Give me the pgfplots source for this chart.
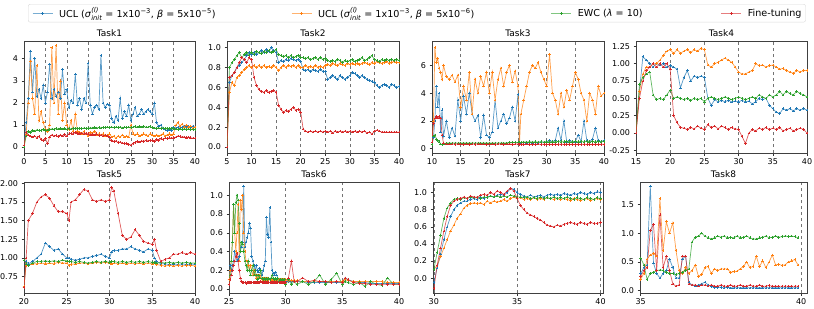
\documentclass[border=0pt]{standalone}
\usepackage{fontspec}
\setmainfont{DejaVu Sans}
\usepackage{amsmath}
\usepackage{pgfplots}
\usepackage{pgfplotstable}
\pgfplotsset{compat=1.18}
\definecolor{cb}{HTML}{1F77B4}
\definecolor{co}{HTML}{FF7F0E}
\definecolor{cg}{HTML}{2CA02C}
\definecolor{cr}{HTML}{D62728}

\pgfplotstableread{
x B O G R
0 0.1 0.0 0.0 0.1
0.5 1.1 0.6 0.5 0.65
1.0 2.2 2.0 0.7 0.55
1.5 4.35 3.9 0.65 0.5
2.0 2.5 2.2 0.75 0.45
2.5 4.0 1.5 0.72 0.5
3.0 2.3 3.7 0.78 0.42
3.5 2.6 1.2 0.74 0.48
4.0 2.2 1.6 0.76 0.35
4.5 2.8 1.1 0.8 0.3
5.0 2.0 0.8 0.75 0.38
5.5 2.5 0.7 0.78 0.15
6.0 3.75 1.0 0.8 0.45
6.5 2.2 4.5 0.82 0.55
7.0 2.6 2.0 0.8 0.5
7.5 2.3 4.6 0.83 0.52
8.0 2.5 1.5 0.82 0.48
8.5 2.2 3.0 0.85 0.55
9.0 3.5 1.2 0.82 0.5
9.5 2.4 2.0 0.84 0.58
10.0 2.6 1.0 0.8 0.5
10.5 1.8 0.8 0.83 0.6
11.0 2.1 1.2 0.82 0.62
11.5 2.0 0.7 0.85 0.6
12.0 3.3 1.5 0.83 0.65
12.5 1.9 0.7 0.84 0.62
13.0 2.2 0.65 0.85 0.6
13.5 1.7 0.6 0.83 0.63
14.0 2.2 0.7 0.86 0.6
14.5 2.0 0.6 0.84 0.62
15.0 3.8 0.5 0.85 0.6
15.5 1.9 0.65 0.87 0.55
16.0 1.5 0.6 0.86 0.58
16.5 1.8 0.7 0.88 0.55
17.0 1.9 0.55 0.86 0.6
17.5 1.7 0.6 0.88 0.52
18.0 4.15 0.55 0.87 0.55
18.5 2.0 0.6 0.89 0.5
19.0 1.8 0.5 0.88 0.55
19.5 1.95 0.55 0.9 0.5
20.0 1.9 0.6 0.88 0.45
20.5 1.3 0.45 0.9 0.3
21.0 1.1 0.5 0.88 0.25
21.5 1.4 0.4 0.9 0.28
22.0 1.2 0.5 0.88 0.2
22.5 2.2 0.45 0.9 0.22
23.0 1.3 0.55 0.87 0.18
23.5 1.6 0.45 0.9 0.15
24.0 1.4 0.5 0.88 0.15
24.5 1.9 0.45 0.9 0.12
25.0 1.2 1.0 0.88 0.1
25.5 1.5 0.6 0.9 0.15
26.0 1.8 0.55 0.92 0.2
26.5 1.4 0.6 0.9 0.25
27.0 1.5 0.5 0.92 0.22
27.5 1.7 0.55 0.9 0.28
28.0 1.5 0.6 0.92 0.25
28.5 1.6 0.55 0.9 0.3
29.0 1.7 0.5 0.9 0.28
29.5 1.6 0.6 0.92 0.3
30.0 1.5 0.55 0.88 0.3
30.5 2.0 0.5 0.86 0.25
31.0 1.1 0.55 0.85 0.35
31.5 0.95 0.5 0.86 0.3
32.0 1.0 0.55 0.85 0.38
32.5 0.85 0.6 0.86 0.35
33.0 0.8 0.5 0.84 0.4
33.5 0.75 0.55 0.85 0.38
34.0 0.8 0.6 0.84 0.42
34.5 0.75 0.55 0.85 0.4
35.0 0.9 0.6 0.83 0.42
35.5 0.85 1.0 0.82 0.45
36.0 0.9 1.1 0.8 0.5
36.5 0.85 0.95 0.82 0.48
37.0 0.9 1.05 0.8 0.45
37.5 0.95 0.9 0.82 0.45
38.0 0.9 1.0 0.8 0.42
38.5 0.95 0.9 0.82 0.45
39.0 0.9 0.95 0.8 0.42
39.5 0.95 0.85 0.8 0.4
40.0 0.9 0.9 0.8 0.4
}\tA

\pgfplotstableread{
x B O G R
5.0 0.0 0.0 0.0 0.0
5.5 0.65 0.55 0.8 0.7
6.0 0.72 0.65 0.85 0.72
6.5 0.75 0.62 0.88 0.75
7.0 0.8 0.7 0.92 0.8
7.5 0.82 0.72 0.95 0.85
8.0 0.85 0.75 0.9 0.9
8.5 0.88 0.78 0.93 0.88
9.0 0.92 0.8 0.95 0.85
9.5 0.95 0.82 0.92 0.9
10.0 0.93 0.8 0.95 0.88
10.5 0.95 0.82 0.93 0.7
11.0 0.93 0.8 0.96 0.62
11.5 0.95 0.82 0.95 0.58
12.0 0.97 0.8 0.94 0.56
12.5 0.95 0.82 0.96 0.55
13.0 0.98 0.8 0.95 0.57
13.5 0.96 0.81 0.97 0.55
14.0 1.0 0.8 0.95 0.56
14.5 0.97 0.82 0.96 0.57
15.0 0.95 0.8 0.98 0.55
15.5 0.85 0.77 0.93 0.42
16.0 0.87 0.8 0.92 0.38
16.5 0.86 0.82 0.91 0.35
17.0 0.88 0.8 0.92 0.37
17.5 0.87 0.82 0.9 0.36
18.0 0.89 0.81 0.92 0.38
18.5 0.88 0.82 0.9 0.4
19.0 0.87 0.8 0.91 0.37
19.5 0.88 0.82 0.92 0.38
20.0 0.86 0.8 0.9 0.35
20.5 0.78 0.8 0.9 0.18
21.0 0.77 0.82 0.89 0.16
21.5 0.78 0.8 0.9 0.15
22.0 0.76 0.81 0.88 0.16
22.5 0.78 0.8 0.89 0.15
23.0 0.77 0.82 0.9 0.16
23.5 0.76 0.8 0.88 0.15
24.0 0.78 0.81 0.9 0.16
24.5 0.76 0.8 0.88 0.15
25.0 0.76 0.82 0.89 0.16
25.5 0.68 0.83 0.87 0.15
26.0 0.7 0.82 0.86 0.16
26.5 0.72 0.84 0.87 0.14
27.0 0.7 0.83 0.86 0.16
27.5 0.68 0.82 0.88 0.15
28.0 0.72 0.84 0.87 0.16
28.5 0.7 0.83 0.85 0.15
29.0 0.68 0.82 0.87 0.16
29.5 0.7 0.84 0.86 0.15
30.0 0.72 0.83 0.87 0.16
30.5 0.75 0.84 0.88 0.15
31.0 0.74 0.83 0.86 0.16
31.5 0.72 0.84 0.87 0.15
32.0 0.7 0.83 0.88 0.16
32.5 0.72 0.84 0.9 0.15
33.0 0.7 0.85 0.87 0.16
33.5 0.68 0.84 0.88 0.14
34.0 0.67 0.83 0.9 0.15
34.5 0.66 0.85 0.92 0.13
35.0 0.65 0.84 0.88 0.16
35.5 0.62 0.86 0.87 0.17
36.0 0.6 0.85 0.86 0.16
36.5 0.62 0.84 0.88 0.15
37.0 0.63 0.85 0.87 0.15
37.5 0.62 0.86 0.88 0.15
38.0 0.6 0.84 0.87 0.15
38.5 0.63 0.85 0.88 0.15
39.0 0.62 0.86 0.87 0.15
39.5 0.6 0.85 0.88 0.15
40.0 0.61 0.85 0.87 0.15
}\tB

\pgfplotstableread{
x B O G R
10.0 0.3 0.3 0.3 0.5
10.25 0.8 2.0 0.9 1.8
10.5 2.0 7.3 1.0 2.2
10.75 4.5 6.2 0.7 2.3
11.0 3.0 6.5 0.6 2.2
11.25 4.0 5.8 0.5 2.3
11.5 1.2 5.5 0.35 2.2
11.75 2.8 5.0 0.3 1.0
12.0 0.9 6.0 0.35 0.4
12.5 2.0 5.2 0.4 0.35
13.0 0.8 5.0 0.42 0.35
13.5 1.5 5.3 0.4 0.35
14.0 0.9 4.8 0.42 0.32
14.5 3.5 5.3 0.4 0.35
15.0 2.0 3.0 0.42 0.35
15.5 3.8 4.5 0.4 0.32
16.0 2.5 3.5 0.42 0.35
16.5 4.0 5.5 0.4 0.3
17.0 2.5 2.5 0.42 0.35
17.5 2.0 5.0 0.4 0.32
18.0 2.4 4.0 0.42 0.35
18.5 0.8 5.2 0.4 0.33
19.0 2.4 4.5 0.42 0.35
19.5 1.0 5.5 0.4 0.3
20.0 0.8 4.0 0.42 0.33
20.5 1.2 5.5 0.4 0.35
21.0 3.5 3.5 0.42 0.3
21.5 1.5 5.0 0.4 0.33
22.0 2.0 5.8 0.42 0.35
22.5 2.5 4.5 0.4 0.3
23.0 1.8 5.5 0.42 0.33
23.5 2.2 6.0 0.45 0.35
24.0 3.0 4.8 0.45 0.3
24.5 2.0 5.6 0.45 0.33
25.0 3.9 4.5 0.45 0.35
25.25 0.3 0.3 0.45 0.3
25.5 0.4 2.5 0.45 0.32
26.0 0.45 3.5 0.48 0.3
26.5 0.4 4.5 0.48 0.33
27.0 0.45 5.5 0.5 0.3
27.5 0.4 6.0 0.48 0.32
28.0 0.45 5.8 0.5 0.3
28.5 0.4 6.2 0.48 0.33
29.0 0.5 5.5 0.5 0.3
29.5 0.45 5.0 0.48 0.32
30.0 0.5 4.5 0.5 0.3
30.5 0.6 6.8 0.5 0.32
31.0 0.5 4.0 0.5 0.3
31.5 0.6 3.5 0.5 0.32
32.0 1.5 2.5 0.52 0.3
32.5 0.6 4.0 0.5 0.32
33.0 2.0 3.0 0.5 0.3
33.5 0.5 4.2 0.52 0.32
34.0 0.6 3.5 0.5 0.3
34.5 0.5 4.5 0.5 0.32
35.0 0.5 5.5 0.52 0.3
35.5 1.0 5.0 0.5 0.32
36.0 0.5 4.0 0.52 0.3
36.5 2.0 3.5 0.5 0.32
37.0 0.6 2.0 0.52 0.3
37.5 0.5 4.0 0.5 0.32
38.0 0.7 3.5 0.52 0.3
38.5 1.5 2.5 0.5 0.32
39.0 0.6 4.5 0.52 0.3
39.5 0.5 3.8 0.5 0.32
40.0 0.6 4.0 0.52 0.3
}\tC

\pgfplotstableread{
x B O G R
15.0 0.0 0.0 0.0 0.0
15.5 0.6 0.6 0.7 0.5
16.0 1.1 0.85 0.8 0.75
16.5 1.05 0.95 0.85 0.9
17.0 1.0 0.95 0.88 0.95
17.5 0.95 1.0 0.55 1.0
18.0 1.0 1.0 0.48 0.95
18.5 0.98 1.05 0.5 1.0
19.0 1.0 1.12 0.48 0.95
19.5 0.95 1.18 0.55 1.0
20.0 0.97 1.2 0.62 0.92
20.5 0.95 1.15 0.5 0.25
21.0 0.92 1.2 0.52 0.15
21.5 0.65 1.15 0.5 0.08
22.0 0.8 1.18 0.48 0.07
22.5 0.9 1.2 0.5 0.05
23.0 0.75 1.16 0.47 0.08
23.5 0.82 1.2 0.5 0.06
24.0 0.8 1.18 0.48 0.1
24.5 0.82 1.22 0.5 0.07
25.0 0.8 1.2 0.45 0.05
25.5 0.5 0.98 0.5 0.12
26.0 0.4 0.95 0.52 0.08
26.5 0.48 1.0 0.5 0.1
27.0 0.45 1.02 0.48 0.06
27.5 0.47 1.05 0.5 0.1
28.0 0.45 1.08 0.52 0.08
28.5 0.47 1.05 0.5 0.05
29.0 0.45 1.02 0.48 0.08
29.5 0.46 0.95 0.5 0.06
30.0 0.45 0.88 0.52 0.05
30.5 0.47 0.85 0.5 -0.05
31.0 0.45 0.85 0.48 -0.15
31.5 0.46 0.88 0.5 0.0
32.0 0.42 0.9 0.52 0.05
32.5 0.45 1.0 0.5 0.03
33.0 0.5 0.97 0.55 0.07
33.5 0.48 0.98 0.52 0.05
34.0 0.5 0.95 0.5 0.08
34.5 0.4 0.97 0.55 0.05
35.0 0.35 0.98 0.52 0.07
35.5 0.3 0.95 0.55 0.05
36.0 0.28 0.92 0.6 0.08
36.5 0.35 0.93 0.55 0.03
37.0 0.33 0.9 0.6 0.05
37.5 0.35 0.88 0.57 0.07
38.0 0.32 0.86 0.55 0.03
38.5 0.35 0.9 0.6 0.05
39.0 0.33 0.88 0.57 0.07
39.5 0.35 0.9 0.55 0.05
40.0 0.33 0.9 0.52 0.0
}\tD

\pgfplotstableread{
x B O G R
20.0 0.6 0.62 0.97 0.6
20.25 0.95 0.9 0.92 1.0
20.5 0.92 0.9 0.9 1.5
21.0 0.95 0.92 0.93 1.6
21.5 1.0 0.92 0.95 1.75
22.0 1.05 0.93 0.95 1.82
22.5 1.2 0.92 0.96 1.85
23.0 1.15 0.93 0.95 1.8
23.5 1.1 0.92 0.96 1.7
24.0 1.12 0.94 0.95 1.62
24.5 1.05 0.93 0.97 1.62
25.0 1.0 0.93 0.96 1.6
25.25 1.0 0.9 0.95 1.5
25.5 0.98 0.91 0.95 1.75
26.0 0.97 0.92 0.94 1.78
26.5 0.98 0.93 0.95 1.85
27.0 1.0 0.93 0.94 1.92
27.5 1.0 0.92 0.93 1.9
28.0 1.02 0.93 0.94 1.78
28.5 1.03 0.94 0.95 1.76
29.0 1.05 0.93 0.94 1.78
29.5 1.02 0.94 0.95 1.76
30.0 1.0 0.93 0.94 1.78
30.25 1.08 0.92 0.95 1.95
30.5 1.1 0.93 0.95 1.9
31.0 1.1 0.92 0.94 1.6
31.5 1.12 0.93 0.95 1.3
32.0 1.12 0.92 0.94 1.25
32.5 1.15 0.93 0.95 1.28
33.0 1.12 0.92 0.94 1.38
33.5 1.1 0.93 0.95 1.3
34.0 1.08 0.92 0.94 1.22
34.5 1.12 0.93 0.95 1.2
35.0 1.1 0.92 0.94 1.18
35.25 1.0 0.93 0.94 1.25
35.5 0.95 0.91 0.93 1.1
36.0 0.92 0.9 0.94 0.95
36.5 0.92 0.89 0.93 0.98
37.0 0.91 0.9 0.94 1.0
37.5 0.92 0.89 0.93 1.05
38.0 0.91 0.9 0.94 1.05
38.5 0.92 0.89 0.93 1.07
39.0 0.91 0.9 0.94 1.05
39.5 0.92 0.9 0.93 1.07
40.0 0.91 0.89 0.93 1.05
}\tE

\pgfplotstableread{
x B O G R
25.0 0.1 0.1 0.05 0.05
25.1 0.25 0.2 0.15 0.1
25.2 0.2 0.3 0.3 0.15
25.3 0.25 0.5 0.5 0.2
25.4 0.3 0.9 0.9 0.25
25.5 0.4 0.6 0.6 0.3
25.6 0.35 0.4 0.92 0.35
25.7 0.3 0.6 1.0 0.38
25.8 0.32 0.9 0.95 0.3
25.9 0.35 0.3 0.7 0.2
26.0 0.4 0.95 0.4 0.12
26.1 0.45 0.85 0.5 0.08
26.2 0.5 1.0 0.48 0.07
26.3 1.1 0.6 0.4 0.07
26.4 0.45 0.4 0.3 0.07
26.5 0.5 0.3 0.25 0.06
26.6 0.55 0.3 0.2 0.07
26.7 0.6 0.25 0.3 0.07
26.8 0.7 0.2 0.2 0.07
26.9 0.65 0.25 0.15 0.07
27.0 0.35 0.2 0.2 0.07
27.1 0.3 0.15 0.25 0.07
27.2 0.25 0.2 0.15 0.07
27.3 0.2 0.15 0.2 0.07
27.4 0.25 0.12 0.15 0.07
27.5 0.2 0.15 0.1 0.07
27.6 0.18 0.12 0.15 0.07
27.7 0.22 0.15 0.12 0.07
27.8 0.2 0.12 0.2 0.08
27.9 0.15 0.1 0.12 0.07
28.0 0.2 0.12 0.1 0.07
28.1 0.25 0.1 0.12 0.07
28.2 0.3 0.12 0.1 0.07
28.3 0.77 0.1 0.12 0.07
28.4 0.58 0.12 0.1 0.07
28.5 0.55 0.1 0.12 0.07
28.6 0.87 0.1 0.1 0.07
28.7 0.5 0.1 0.12 0.07
28.8 0.2 0.1 0.15 0.07
28.9 0.17 0.1 0.12 0.07
29.0 0.15 0.1 0.1 0.07
29.1 0.18 0.1 0.12 0.07
29.2 0.15 0.1 0.1 0.07
29.3 0.12 0.1 0.12 0.07
29.4 0.1 0.1 0.08 0.07
29.5 0.1 0.1 0.1 0.07
29.6 0.1 0.1 0.08 0.07
29.7 0.1 0.1 0.1 0.07
29.8 0.1 0.1 0.08 0.07
29.9 0.09 0.1 0.1 0.07
30.0 0.08 0.1 0.05 0.07
30.25 0.08 0.09 0.1 0.12
30.5 0.08 0.09 0.05 0.3
30.75 0.08 0.09 0.08 0.08
31.0 0.08 0.09 0.05 0.08
31.5 0.08 0.08 0.08 0.12
32.0 0.07 0.08 0.05 0.08
32.5 0.07 0.09 0.08 0.09
33.0 0.07 0.08 0.15 0.08
33.5 0.07 0.08 0.05 0.08
34.0 0.07 0.08 0.1 0.07
34.5 0.07 0.08 0.17 0.08
35.0 0.07 0.08 0.05 0.07
35.25 0.12 0.1 0.08 0.12
35.5 0.1 0.09 0.07 0.1
36.0 0.08 0.08 0.05 0.07
36.5 0.07 0.08 0.07 0.06
37.0 0.07 0.08 0.03 0.06
37.5 0.06 0.08 0.08 0.05
38.0 0.06 0.08 0.05 0.05
38.5 0.06 0.08 0.04 0.05
39.0 0.06 0.07 0.12 0.05
39.5 0.06 0.07 0.05 0.05
40.0 0.06 0.07 0.05 0.05
}\tF

\pgfplotstableread{
x B O G R
30.0 -0.05 0.1 0.1 -0.12
30.2 0.12 0.15 0.3 0.15
30.4 0.28 0.25 0.5 0.35
30.6 0.45 0.35 0.7 0.55
30.8 0.6 0.45 0.82 0.72
31.0 0.72 0.55 0.88 0.85
31.2 0.8 0.62 0.92 0.9
31.4 0.85 0.7 0.93 0.92
31.6 0.88 0.75 0.92 0.93
31.8 0.9 0.82 0.94 0.95
32.0 0.9 0.85 0.93 0.93
32.2 0.92 0.87 0.95 0.96
32.4 0.93 0.88 0.94 0.95
32.6 0.92 0.87 0.95 0.94
32.8 0.94 0.88 0.93 0.97
33.0 0.93 0.86 0.95 0.98
33.2 0.95 0.9 0.94 0.97
33.4 0.96 0.88 0.96 1.0
33.6 0.95 0.9 0.95 0.98
33.8 0.97 0.89 0.96 1.02
34.0 0.98 0.9 0.95 1.0
34.2 0.97 0.92 0.96 0.98
34.4 1.0 0.9 0.95 1.02
34.6 1.05 0.93 0.97 1.05
34.8 1.04 0.95 0.96 1.02
35.0 1.0 0.93 0.95 0.93
35.2 0.98 0.94 0.95 0.85
35.4 0.96 0.92 0.94 0.8
35.6 0.95 0.93 0.95 0.76
35.8 0.97 0.92 0.93 0.74
36.0 0.95 0.94 0.94 0.72
36.2 0.96 0.92 0.93 0.7
36.4 0.97 0.93 0.95 0.68
36.6 0.95 0.92 0.93 0.65
36.8 0.97 0.94 0.94 0.62
37.0 0.98 0.93 0.93 0.61
37.2 0.97 0.92 0.95 0.6
37.4 0.98 0.93 0.93 0.62
37.6 0.97 0.92 0.94 0.61
37.8 0.99 0.93 0.93 0.63
38.0 0.98 0.92 0.95 0.64
38.2 0.97 0.91 0.93 0.65
38.4 0.99 0.93 0.92 0.64
38.6 0.98 0.92 0.94 0.63
38.8 1.0 0.91 0.93 0.65
39.0 0.99 0.92 0.92 0.64
39.2 0.98 0.93 0.94 0.63
39.4 1.0 0.91 0.93 0.65
39.6 0.99 0.92 0.92 0.64
39.8 1.01 0.93 0.94 0.64
40.0 1.0 0.92 0.93 0.65
}\tG

\pgfplotstableread{
x B O G R
35.0 0.3 0.2 0.57 0.25
35.1 0.4 0.3 0.45 0.35
35.2 0.45 0.55 0.2 0.4
35.3 1.82 0.62 0.3 1.05
35.4 0.48 0.65 0.32 1.15
35.5 0.3 0.6 0.35 0.35
35.6 0.22 1.6 0.36 1.32
35.7 0.3 0.7 0.35 0.4
35.8 0.35 1.2 0.32 0.6
35.9 0.55 1.0 0.3 0.35
36.0 0.4 1.18 0.3 0.12
36.1 0.22 0.7 0.28 0.08
36.2 0.22 0.35 0.3 0.1
36.3 0.55 0.3 0.32 0.6
36.4 0.6 0.4 0.35 0.6
36.5 0.15 0.3 0.38 0.12
36.6 0.1 0.35 0.85 0.1
36.7 0.08 0.45 0.93 0.1
36.8 0.1 0.25 0.95 0.08
36.9 0.12 0.28 1.0 0.1
37.0 0.15 0.4 0.95 0.1
37.1 0.1 0.42 0.92 0.08
37.2 0.07 0.3 0.9 0.1
37.3 0.06 0.38 0.92 0.08
37.4 0.06 0.35 0.95 0.08
37.5 0.06 0.38 0.93 0.1
37.6 0.05 0.38 0.95 0.08
37.7 0.06 0.38 0.92 0.08
37.8 0.05 0.32 0.93 0.1
37.9 0.05 0.33 0.92 0.08
38.0 0.05 0.34 0.95 0.08
38.1 0.05 0.38 0.92 0.1
38.2 0.05 0.42 0.93 0.08
38.3 0.05 0.5 0.95 0.08
38.4 0.05 0.4 0.92 0.1
38.5 0.05 0.42 0.9 0.08
38.6 0.05 0.6 0.9 0.08
38.7 0.05 0.42 0.92 0.1
38.8 0.05 0.52 0.93 0.08
38.9 0.05 0.4 0.95 0.08
39.0 0.05 0.5 0.92 0.09
39.1 0.05 0.62 0.93 0.08
39.2 0.05 0.45 0.95 0.08
39.3 0.05 0.46 0.93 0.08
39.4 0.05 0.44 0.94 0.08
39.5 0.05 0.45 0.95 0.08
39.6 0.05 0.5 0.94 0.08
39.7 0.05 0.52 0.95 0.08
39.8 0.05 0.54 0.94 0.08
39.9 0.05 0.45 0.92 0.08
}\tH

\tikzset{
  sty/.style={color=#1, draw opacity=0.75, line width=0.7pt, mark=+, mark size=1.3pt,
    mark options={line width=0.5pt, draw opacity=1}},
  sB/.style={sty=cb},
  sO/.style={sty=co},
  sG/.style={sty=cg},
  sR/.style={sty=cr},
}
\newcommand{\legimg}[1]{\addlegendimage{legend image code/.code={%
  \draw[#1, line width=0.9pt, draw opacity=0.6] (0pt,0pt) -- (20pt,0pt);
  \draw[#1, line width=0.6pt] (8.6pt,0pt) -- (11.4pt,0pt) (10pt,-1.4pt) -- (10pt,1.4pt);}}}
\pgfplotsset{
  panel/.style={
    scale only axis, anchor=north west,
    font=\fontsize{8}{9.5}\selectfont,
    /pgf/number format/assume math mode=true,
    title style={font=\fontsize{9}{10}\selectfont, yshift=-5pt},
    axis line style={black!75, line width=0.6pt},
    xtick pos=bottom, ytick pos=left, tick align=outside,
    major tick length=2.5pt, tick style={black!80, line width=0.5pt},
    xmajorgrids, grid style={dashed, black!55, line width=0.5pt},
    scaled ticks=false, clip=true,
  },
  y2/.style={yticklabel style={/pgf/number format/.cd, fixed, fixed zerofill, precision=2}},
  y1/.style={yticklabel style={/pgf/number format/.cd, fixed, fixed zerofill, precision=1}},
}

\begin{document}
\begin{tikzpicture}
\useasboundingbox (0pt,0pt) rectangle (814pt,-308pt);

% Task1
\begin{axis}[panel, at={(24pt,-41pt)}, width=171pt, height=112pt,
  title={Task1}, xmin=0, xmax=40, ymin=-0.27, ymax=4.8,
  xtick={0,5,...,40}, ytick={0,1,2,3,4},
  legend columns=4,
  legend style={at={(0.0234,1.330)}, anchor=north west, draw=black!15, rounded corners=2pt,
    font=\fontsize{9.6}{11}\selectfont, inner ysep=2pt, inner xsep=4pt,
    nodes={inner xsep=0pt, inner ysep=1.5pt},
    /tikz/every odd column/.append style={column sep=6pt},
    /tikz/every even column/.append style={column sep=0pt}},
  legend cell align=left]
\legimg{cb}
\addlegendentry{\makebox[232pt][l]{UCL (\textit{σ}$^{\textit{(l)}}_{\textit{init}}$ = 1x10\textsuperscript{−3}, \textit{β} = 5x10\textsuperscript{−5})}}
\legimg{co}
\addlegendentry{\makebox[233pt][l]{UCL (\textit{σ}$^{\textit{(l)}}_{\textit{init}}$ = 1x10\textsuperscript{−3}, \textit{β} = 5x10\textsuperscript{−6})}}
\legimg{cg}
\addlegendentry{\makebox[143pt][l]{EWC (\textit{λ} = 10)}}
\legimg{cr}
\addlegendentry{Fine-tuning}
\addplot[sB, forget plot] table[x=x,y=B]{\tA};
\addplot[sO, forget plot] table[x=x,y=O]{\tA};
\addplot[sG, forget plot] table[x=x,y=G]{\tA};
\addplot[sR, forget plot] table[x=x,y=R]{\tA};
\end{axis}

% Task2
\begin{axis}[panel, at={(227pt,-41pt)}, width=172pt, height=112pt,
  title={Task2}, xmin=5, xmax=40, ymin=-0.06, ymax=1.067,
  xtick={5,10,...,40}, ytick={0,0.2,...,1.0}, y1]
\addplot[sB] table[x=x,y=B]{\tB};
\addplot[sO] table[x=x,y=O]{\tB};
\addplot[sG] table[x=x,y=G]{\tB};
\addplot[sR] table[x=x,y=R]{\tB};
\end{axis}

% Task3
\begin{axis}[panel, at={(432pt,-41pt)}, width=172pt, height=112pt,
  title={Task3}, xmin=10, xmax=40, ymin=-0.31, ymax=7.75,
  xtick={10,15,...,40}, ytick={0,2,4,6}]
\addplot[sB] table[x=x,y=B]{\tC};
\addplot[sO] table[x=x,y=O]{\tC};
\addplot[sG] table[x=x,y=G]{\tC};
\addplot[sR] table[x=x,y=R]{\tC};
\end{axis}

% Task4
\begin{axis}[panel, at={(636pt,-41pt)}, width=171pt, height=112pt,
  title={Task4}, xmin=15, xmax=40, ymin=-0.288, ymax=1.326,
  xtick={15,20,...,40}, ytick={-0.25,0,0.25,0.5,0.75,1.0,1.25}, y2]
\addplot[sB] table[x=x,y=B]{\tD};
\addplot[sO] table[x=x,y=O]{\tD};
\addplot[sG] table[x=x,y=G]{\tD};
\addplot[sR] table[x=x,y=R]{\tD};
\end{axis}

% Task5
\begin{axis}[panel, at={(24pt,-182pt)}, width=171pt, height=111pt,
  title={Task5}, xmin=20, xmax=40, ymin=0.527, ymax=2.02,
  xtick={20,25,...,40}, ytick={0.75,1.0,1.25,1.5,1.75,2.0}, y2]
\addplot[sB] table[x=x,y=B]{\tE};
\addplot[sO] table[x=x,y=O]{\tE};
\addplot[sG] table[x=x,y=G]{\tE};
\addplot[sR] table[x=x,y=R]{\tE};
\end{axis}

% Task6
\begin{axis}[panel, at={(229pt,-182pt)}, width=170pt, height=111pt,
  title={Task6}, xmin=25, xmax=40, ymin=-0.042, ymax=1.141,
  xtick={25,30,35,40}, ytick={0,0.2,...,1.0}, y1]
\addplot[sB] table[x=x,y=B]{\tF};
\addplot[sO] table[x=x,y=O]{\tF};
\addplot[sG] table[x=x,y=G]{\tF};
\addplot[sR] table[x=x,y=R]{\tF};
\end{axis}

% Task7
\begin{axis}[panel, at={(433pt,-182pt)}, width=170pt, height=111pt,
  title={Task7}, xmin=29.95, xmax=40.15, ymin=-0.174, ymax=1.124,
  xtick={30,35,40}, ytick={0,0.2,...,1.0}, y1]
\addplot[sB] table[x=x,y=B]{\tG};
\addplot[sO] table[x=x,y=O]{\tG};
\addplot[sG] table[x=x,y=G]{\tG};
\addplot[sR] table[x=x,y=R]{\tG};
\end{axis}

% Task8
\begin{axis}[panel, at={(640pt,-182pt)}, width=167pt, height=111pt,
  title={Task8}, xmin=34.98, xmax=40.18, ymin=-0.04, ymax=1.89,
  xtick={35,40}, ytick={0,0.5,1.0,1.5}, y1]
\addplot[sB] table[x=x,y=B]{\tH};
\addplot[sO] table[x=x,y=O]{\tH};
\addplot[sG] table[x=x,y=G]{\tH};
\addplot[sR] table[x=x,y=R]{\tH};
\end{axis}
\end{tikzpicture}
\end{document}
